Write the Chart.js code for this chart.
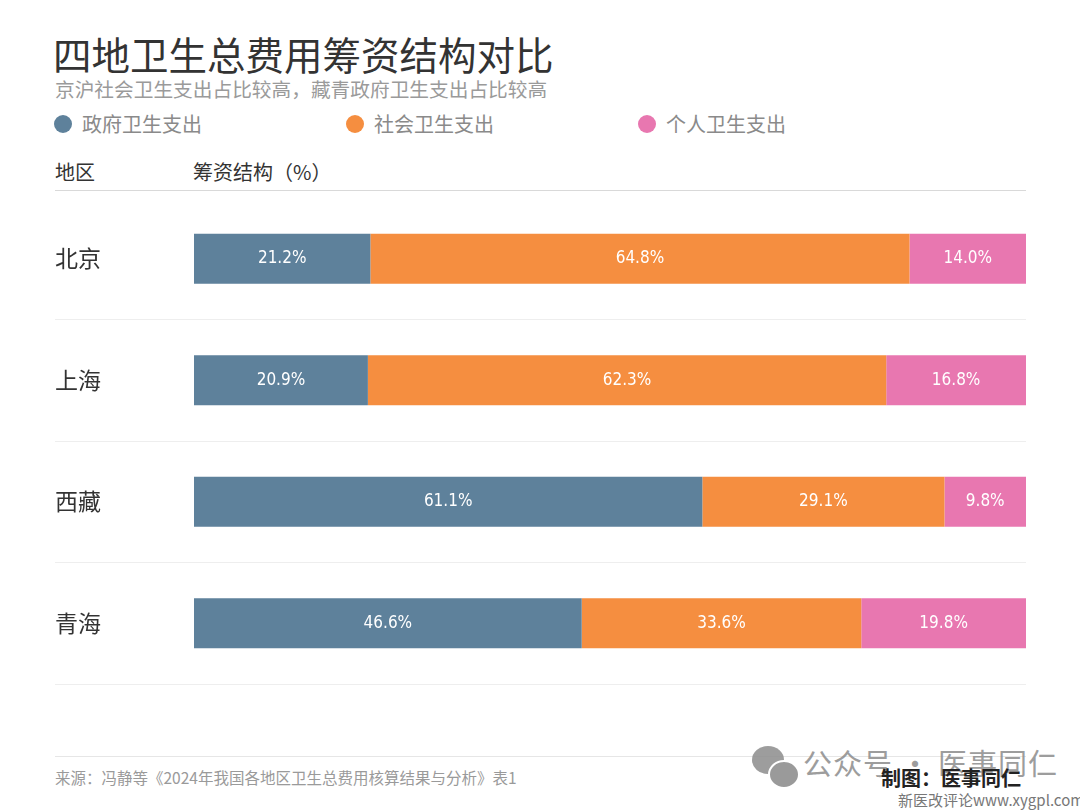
<!DOCTYPE html>
<html>
<head>
<meta charset="utf-8">
<script src="https://cdn.jsdelivr.net/npm/chart.js@4.4.1/dist/chart.umd.min.js"></script>
<style>
  html, body { margin:0; padding:0; background:#fff; }
  body { width:1080px; height:810px; position:relative; overflow:hidden;
         font-family:"Noto Sans CJK SC", "Noto Sans", sans-serif; }
  .abs { position:absolute; white-space:nowrap; }
  #title { left:53px; top:30px; font-size:38.5px; color:#333; font-weight:400; line-height:46px; }
  #subtitle { left:55px; top:76px; font-size:19.7px; color:#9a9a9a; line-height:26px; }
  #legend { left:54px; top:111px; height:26px; }
  .leg { position:absolute; top:0; display:flex; align-items:center; font-size:20px; color:#8a8a8a; line-height:26px; }
  .leg .dot { width:18px; height:18px; border-radius:50%; margin-right:10px; }
  #hdr-region { left:55px; top:159px; font-size:20px; color:#333; line-height:26px; }
  #hdr-struct { left:193px; top:159px; font-size:20px; color:#333; line-height:26px; }
  #hdr-line { left:55px; top:190px; width:971px; height:1px; background:#d9d9d9; }
  #chart-box { position:absolute; left:0; top:180px; width:1080px; height:520px; }
  #foot-line { left:55px; top:756px; width:971px; height:1px; background:#e6e6e6; }
  #source { left:55px; top:766px; font-size:15.5px; color:#9a9a9a; line-height:22px; }
  #wm { left:803px; top:744px; font-size:29px; color:#8c8c8c; opacity:0.85; line-height:36px; letter-spacing:1px; }
  #wm-icon1 { left:752px; top:746px; width:32px; height:28px; border-radius:50%; background:#8c8c8c; opacity:0.85; }
  #wm-icon2 { left:768px; top:760px; width:28px; height:25px; border-radius:50%; background:#9a9a9a; border:2px solid #fff; }
  #credit { left:881px; top:765px; font-size:20px; color:#222; font-weight:700; line-height:26px; }
  #site { left:898px; top:790px; font-size:15px; color:#777; line-height:20px; }
</style>
</head>
<body>
<div id="title" class="abs">四地卫生总费用筹资结构对比</div>
<div id="subtitle" class="abs">京沪社会卫生支出占比较高，藏青政府卫生支出占比较高</div>
<div id="legend" class="abs"></div>
<div id="hdr-region" class="abs">地区</div>
<div id="hdr-struct" class="abs">筹资结构（%）</div>
<div id="hdr-line" class="abs"></div>
<div id="chart-box"><canvas id="chart"></canvas></div>
<div id="foot-line" class="abs"></div>
<div id="source" class="abs">来源：冯静等《2024年我国各地区卫生总费用核算结果与分析》表1</div>
<div id="wm-icon1" class="abs"></div>
<div id="wm-icon2" class="abs"></div>
<div id="wm" class="abs">公众号 · 医事同仁</div>
<div id="credit" class="abs">制图：医事同仁</div>
<div id="site" class="abs">新医改评论www.xygpl.com</div>

<script>
/* ---------- Data ---------- */
const regions = ['北京', '上海', '西藏', '青海'];
const seriesNames = ['政府卫生支出', '社会卫生支出', '个人卫生支出'];
const seriesColors = ['#5e819b', '#f58e40', '#e877b0'];
const govShare = [21.2, 20.9, 61.1, 46.6];
const socialShare = [64.8, 62.3, 29.1, 33.6];
const personalShare = [14.0, 16.8, 9.8, 19.8];
const seriesValues = [govShare, socialShare, personalShare];

/* ---------- Legend (HTML, fixed spacing like the original) ---------- */
const legendEl = document.getElementById('legend');
seriesNames.forEach((name, i) => {
  const item = document.createElement('div');
  item.className = 'leg';
  item.style.left = (i * 292) + 'px';
  item.innerHTML = `<span class="dot" style="background:${seriesColors[i]}"></span>${name}`;
  legendEl.appendChild(item);
});

// White value labels centred inside each segment.
const segmentLabels = {
  id: 'segmentLabels',
  afterDatasetsDraw(chart){
    const ctx = chart.ctx;
    ctx.save();
    ctx.fillStyle = '#ffffff';
    ctx.font = '17px "DejaVu Sans Condensed", "Liberation Sans Narrow", sans-serif';
    ctx.textAlign = 'center';
    ctx.textBaseline = 'middle';
    chart.data.datasets.forEach((ds, di) => {
      chart.getDatasetMeta(di).data.forEach((bar, i) => {
        const p = bar.getCenterPoint();
        ctx.fillText(ds.data[i].toFixed(1) + '%', p.x, p.y);
      });
    });
    ctx.restore();
  }
};

// Top boundary line is replaced by the header rule, so hide it.
const lineColor = (c) => c.index === 0 ? 'rgba(0,0,0,0)' : '#eeeeee';

new Chart(document.getElementById('chart'), {
  type: 'bar',
  data: {
    labels: regions,
    datasets: seriesNames.map((name, i) => ({
      label: name,
      data: seriesValues[i],
      backgroundColor: seriesColors[i],
      borderWidth: 0,
      barPercentage: 0.41,
      categoryPercentage: 1
    }))
  },
  options: {
    indexAxis: 'y',
    responsive: true,
    maintainAspectRatio: false,
    animation: false,
    layout: { padding: { left:55, right:54, top:18, bottom:16 } },
    plugins: { legend: { display:false }, tooltip: { enabled:false } },
    scales: {
      x: { stacked:true, min:0, max:100, display:false },
      y: {
        stacked: true,
        border: { display:false },
        grid: { offset:true, color:lineColor, tickColor:lineColor, lineWidth:1, drawTicks:true, tickLength:139 },
        ticks: {
          crossAlign: 'far',
          padding: 0,
          color: '#333333',
          font: { family:'"Noto Sans CJK SC", sans-serif', size:23 }
        },
        afterFit: (scale) => { scale.width = 139; }
      }
    }
  },
  plugins: [segmentLabels]
});
</script>
</body>
</html>
